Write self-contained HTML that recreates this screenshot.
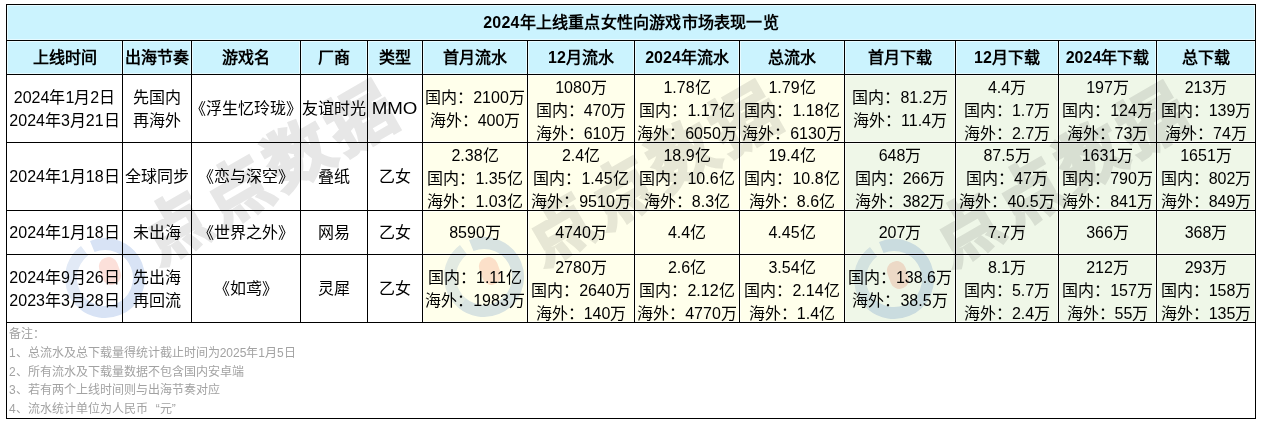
<!DOCTYPE html>
<html lang="zh-CN"><head><meta charset="utf-8"><style>
*{margin:0;padding:0;box-sizing:border-box}
html,body{width:1261px;height:423px;background:#fff;overflow:hidden}
body{font-family:"Liberation Sans",sans-serif;color:#000;position:relative}
.c{position:absolute;box-shadow:inset 0 0 0 1px rgba(255,255,255,.55);display:flex;align-items:center;justify-content:center;text-align:center;font-size:16px;line-height:23px;white-space:nowrap;overflow:visible}
.h{font-weight:bold}
.l{position:absolute;background:#000}
.n{position:absolute;left:9px;top:325px;font-size:12px;line-height:18.75px;color:#a2a2a2;white-space:nowrap}
.wm{position:absolute;white-space:nowrap;pointer-events:none}
</style></head><body>

<div class="c h" style="left:7px;top:5px;width:1248px;height:35px;background:#cbf3fe;letter-spacing:0.2px">2024年上线重点女性向游戏市场表现一览</div>
<div class="c h" style="left:7px;top:41px;width:115px;height:33px;background:#cbf3fe">上线时间</div>
<div class="c h" style="left:123px;top:41px;width:68px;height:33px;background:#cbf3fe">出海节奏</div>
<div class="c h" style="left:192px;top:41px;width:108px;height:33px;background:#cbf3fe">游戏名</div>
<div class="c h" style="left:301px;top:41px;width:66px;height:33px;background:#cbf3fe">厂商</div>
<div class="c h" style="left:368px;top:41px;width:54px;height:33px;background:#cbf3fe">类型</div>
<div class="c h" style="left:423px;top:41px;width:104px;height:33px;background:#cbf3fe">首月流水</div>
<div class="c h" style="left:528px;top:41px;width:106px;height:33px;background:#cbf3fe">12月流水</div>
<div class="c h" style="left:635px;top:41px;width:104px;height:33px;background:#cbf3fe">2024年流水</div>
<div class="c h" style="left:740px;top:41px;width:104px;height:33px;background:#cbf3fe">总流水</div>
<div class="c h" style="left:845px;top:41px;width:110px;height:33px;background:#cbf3fe">首月下载</div>
<div class="c h" style="left:956px;top:41px;width:102px;height:33px;background:#cbf3fe">12月下载</div>
<div class="c h" style="left:1059px;top:41px;width:97px;height:33px;background:#cbf3fe">2024年下载</div>
<div class="c h" style="left:1157px;top:41px;width:98px;height:33px;background:#cbf3fe">总下载</div>
<div class="c" style="left:7px;top:75px;width:115px;height:67px;background:#ffffff;"><div>2024年1月2日<br>2024年3月21日</div></div>
<div class="c" style="left:123px;top:75px;width:68px;height:67px;background:#ffffff;"><div>先国内<br>再海外</div></div>
<div class="c" style="left:192px;top:75px;width:108px;height:67px;background:#ffffff;"><div>《浮生忆玲珑》</div></div>
<div class="c" style="left:301px;top:75px;width:66px;height:67px;background:#ffffff;"><div>友谊时光</div></div>
<div class="c" style="left:368px;top:75px;width:54px;height:67px;background:#ffffff;"><div><span style="display:inline-block;transform:scaleX(1.17)">MMO</span></div></div>
<div class="c" style="left:423px;top:75px;width:104px;height:67px;background:#ffffeb;"><div>国内：2100万<br>海外：400万</div></div>
<div class="c" style="left:528px;top:75px;width:106px;height:67px;background:#ffffeb;padding-top:3px;"><div>1080万<br>国内：470万<br>海外：610万</div></div>
<div class="c" style="left:635px;top:75px;width:104px;height:67px;background:#ffffeb;padding-top:3px;"><div>1.78亿<br>国内：1.17亿<br>海外：6050万</div></div>
<div class="c" style="left:740px;top:75px;width:104px;height:67px;background:#ffffeb;padding-top:3px;"><div>1.79亿<br>国内：1.18亿<br>海外：6130万</div></div>
<div class="c" style="left:845px;top:75px;width:110px;height:67px;background:#eff7e8;"><div>国内：81.2万<br>海外：11.4万</div></div>
<div class="c" style="left:956px;top:75px;width:102px;height:67px;background:#eff7e8;padding-top:3px;"><div>4.4万<br>国内：1.7万<br>海外：2.7万</div></div>
<div class="c" style="left:1059px;top:75px;width:97px;height:67px;background:#eff7e8;padding-top:3px;"><div>197万<br>国内：124万<br>海外：73万</div></div>
<div class="c" style="left:1157px;top:75px;width:98px;height:67px;background:#eff7e8;padding-top:3px;"><div>213万<br>国内：139万<br>海外：74万</div></div>
<div class="c" style="left:7px;top:143px;width:115px;height:67px;background:#ffffff;"><div>2024年1月18日</div></div>
<div class="c" style="left:123px;top:143px;width:68px;height:67px;background:#ffffff;"><div>全球同步</div></div>
<div class="c" style="left:192px;top:143px;width:108px;height:67px;background:#ffffff;"><div>《恋与深空》</div></div>
<div class="c" style="left:301px;top:143px;width:66px;height:67px;background:#ffffff;"><div>叠纸</div></div>
<div class="c" style="left:368px;top:143px;width:54px;height:67px;background:#ffffff;"><div>乙女</div></div>
<div class="c" style="left:423px;top:143px;width:104px;height:67px;background:#ffffeb;padding-top:3px;"><div>2.38亿<br>国内：1.35亿<br>海外：1.03亿</div></div>
<div class="c" style="left:528px;top:143px;width:106px;height:67px;background:#ffffeb;padding-top:3px;"><div>2.4亿<br>国内：1.45亿<br>海外：9510万</div></div>
<div class="c" style="left:635px;top:143px;width:104px;height:67px;background:#ffffeb;padding-top:3px;"><div>18.9亿<br>国内：10.6亿<br>海外：8.3亿</div></div>
<div class="c" style="left:740px;top:143px;width:104px;height:67px;background:#ffffeb;padding-top:3px;"><div>19.4亿<br>国内：10.8亿<br>海外：8.6亿</div></div>
<div class="c" style="left:845px;top:143px;width:110px;height:67px;background:#eff7e8;padding-top:3px;"><div>648万<br>国内：266万<br>海外：382万</div></div>
<div class="c" style="left:956px;top:143px;width:102px;height:67px;background:#eff7e8;padding-top:3px;"><div>87.5万<br>国内：47万<br>海外：40.5万</div></div>
<div class="c" style="left:1059px;top:143px;width:97px;height:67px;background:#eff7e8;padding-top:3px;"><div>1631万<br>国内：790万<br>海外：841万</div></div>
<div class="c" style="left:1157px;top:143px;width:98px;height:67px;background:#eff7e8;padding-top:3px;"><div>1651万<br>国内：802万<br>海外：849万</div></div>
<div class="c" style="left:7px;top:211px;width:115px;height:43px;background:#ffffff;"><div>2024年1月18日</div></div>
<div class="c" style="left:123px;top:211px;width:68px;height:43px;background:#ffffff;"><div>未出海</div></div>
<div class="c" style="left:192px;top:211px;width:108px;height:43px;background:#ffffff;"><div>《世界之外》</div></div>
<div class="c" style="left:301px;top:211px;width:66px;height:43px;background:#ffffff;"><div>网易</div></div>
<div class="c" style="left:368px;top:211px;width:54px;height:43px;background:#ffffff;"><div>乙女</div></div>
<div class="c" style="left:423px;top:211px;width:104px;height:43px;background:#ffffeb;"><div>8590万</div></div>
<div class="c" style="left:528px;top:211px;width:106px;height:43px;background:#ffffeb;"><div>4740万</div></div>
<div class="c" style="left:635px;top:211px;width:104px;height:43px;background:#ffffeb;"><div>4.4亿</div></div>
<div class="c" style="left:740px;top:211px;width:104px;height:43px;background:#ffffeb;"><div>4.45亿</div></div>
<div class="c" style="left:845px;top:211px;width:110px;height:43px;background:#eff7e8;"><div>207万</div></div>
<div class="c" style="left:956px;top:211px;width:102px;height:43px;background:#eff7e8;"><div>7.7万</div></div>
<div class="c" style="left:1059px;top:211px;width:97px;height:43px;background:#eff7e8;"><div>366万</div></div>
<div class="c" style="left:1157px;top:211px;width:98px;height:43px;background:#eff7e8;"><div>368万</div></div>
<div class="c" style="left:7px;top:255px;width:115px;height:67px;background:#ffffff;"><div>2024年9月26日<br>2023年3月28日</div></div>
<div class="c" style="left:123px;top:255px;width:68px;height:67px;background:#ffffff;"><div>先出海<br>再回流</div></div>
<div class="c" style="left:192px;top:255px;width:108px;height:67px;background:#ffffff;"><div>《如鸢》</div></div>
<div class="c" style="left:301px;top:255px;width:66px;height:67px;background:#ffffff;"><div>灵犀</div></div>
<div class="c" style="left:368px;top:255px;width:54px;height:67px;background:#ffffff;"><div>乙女</div></div>
<div class="c" style="left:423px;top:255px;width:104px;height:67px;background:#ffffeb;"><div>国内：1.11亿<br>海外：1983万</div></div>
<div class="c" style="left:528px;top:255px;width:106px;height:67px;background:#ffffeb;padding-top:3px;"><div>2780万<br>国内：2640万<br>海外：140万</div></div>
<div class="c" style="left:635px;top:255px;width:104px;height:67px;background:#ffffeb;padding-top:3px;"><div>2.6亿<br>国内：2.12亿<br>海外：4770万</div></div>
<div class="c" style="left:740px;top:255px;width:104px;height:67px;background:#ffffeb;padding-top:3px;"><div>3.54亿<br>国内：2.14亿<br>海外：1.4亿</div></div>
<div class="c" style="left:845px;top:255px;width:110px;height:67px;background:#eff7e8;"><div>国内：138.6万<br>海外：38.5万</div></div>
<div class="c" style="left:956px;top:255px;width:102px;height:67px;background:#eff7e8;padding-top:3px;"><div>8.1万<br>国内：5.7万<br>海外：2.4万</div></div>
<div class="c" style="left:1059px;top:255px;width:97px;height:67px;background:#eff7e8;padding-top:3px;"><div>212万<br>国内：157万<br>海外：55万</div></div>
<div class="c" style="left:1157px;top:255px;width:98px;height:67px;background:#eff7e8;padding-top:3px;"><div>293万<br>国内：158万<br>海外：135万</div></div>
<div class="l" style="left:6px;top:4px;width:1250px;height:1px"></div>
<div class="l" style="left:6px;top:40px;width:1250px;height:1px"></div>
<div class="l" style="left:6px;top:74px;width:1250px;height:1px"></div>
<div class="l" style="left:6px;top:142px;width:1250px;height:1px"></div>
<div class="l" style="left:6px;top:210px;width:1250px;height:1px"></div>
<div class="l" style="left:6px;top:254px;width:1250px;height:1px"></div>
<div class="l" style="left:6px;top:322px;width:1250px;height:1px"></div>
<div class="l" style="left:6px;top:418px;width:1250px;height:1px"></div>
<div class="l" style="left:6px;top:4px;width:1px;height:415px"></div>
<div class="l" style="left:1255px;top:4px;width:1px;height:415px"></div>
<div class="l" style="left:122px;top:40px;width:1px;height:283px"></div>
<div class="l" style="left:191px;top:40px;width:1px;height:283px"></div>
<div class="l" style="left:300px;top:40px;width:1px;height:283px"></div>
<div class="l" style="left:367px;top:40px;width:1px;height:283px"></div>
<div class="l" style="left:422px;top:40px;width:1px;height:283px"></div>
<div class="l" style="left:527px;top:40px;width:1px;height:283px"></div>
<div class="l" style="left:634px;top:40px;width:1px;height:283px"></div>
<div class="l" style="left:739px;top:40px;width:1px;height:283px"></div>
<div class="l" style="left:844px;top:40px;width:1px;height:283px"></div>
<div class="l" style="left:955px;top:40px;width:1px;height:283px"></div>
<div class="l" style="left:1058px;top:40px;width:1px;height:283px"></div>
<div class="l" style="left:1156px;top:40px;width:1px;height:283px"></div>
<svg class="wm" style="left:55px;top:228px;mix-blend-mode:multiply" width="100" height="100" viewBox="-50 -50 100 100"><circle r="34" fill="none" stroke="#d8e3f5" stroke-width="12" stroke-dasharray="143.6 1000" transform="rotate(-112)"/><circle r="34" fill="none" stroke="#e2eaf6" stroke-width="12" stroke-dasharray="61.1 1000" transform="rotate(130)"/><rect x="-4.5" y="-21" width="19" height="28" rx="9" fill="#fce0da" transform="rotate(-20 5 -7)"/></svg>
<div class="wm" style="left:141.0px;top:194.0px;width:70px;height:70px;line-height:70px;text-align:center;font-size:65px;font-weight:900;color:#e7e7e7;-webkit-text-stroke:3px #e7e7e7;mix-blend-mode:multiply;transform:rotate(-30deg)">点</div>
<div class="wm" style="left:202.5px;top:157.5px;width:70px;height:70px;line-height:70px;text-align:center;font-size:65px;font-weight:900;color:#e7e7e7;-webkit-text-stroke:3px #e7e7e7;mix-blend-mode:multiply;transform:rotate(-30deg)">点</div>
<div class="wm" style="left:264.0px;top:121.0px;width:70px;height:70px;line-height:70px;text-align:center;font-size:65px;font-weight:900;color:#e7e7e7;-webkit-text-stroke:3px #e7e7e7;mix-blend-mode:multiply;transform:rotate(-30deg)">数</div>
<div class="wm" style="left:325.5px;top:84.5px;width:70px;height:70px;line-height:70px;text-align:center;font-size:65px;font-weight:900;color:#e7e7e7;-webkit-text-stroke:3px #e7e7e7;mix-blend-mode:multiply;transform:rotate(-30deg)">据</div>
<svg class="wm" style="left:434px;top:227px;mix-blend-mode:multiply" width="100" height="100" viewBox="-50 -50 100 100"><circle r="34" fill="none" stroke="#d8e3f5" stroke-width="12" stroke-dasharray="143.6 1000" transform="rotate(-112)"/><circle r="34" fill="none" stroke="#e2eaf6" stroke-width="12" stroke-dasharray="61.1 1000" transform="rotate(130)"/><rect x="-3.5" y="-20" width="19" height="28" rx="9" fill="#fce0da" transform="rotate(-20 6 -6)"/></svg>
<div class="wm" style="left:525.0px;top:195.0px;width:70px;height:70px;line-height:70px;text-align:center;font-size:65px;font-weight:900;color:#e7e7e7;-webkit-text-stroke:3px #e7e7e7;mix-blend-mode:multiply;transform:rotate(-30deg)">点</div>
<div class="wm" style="left:586.5px;top:158.5px;width:70px;height:70px;line-height:70px;text-align:center;font-size:65px;font-weight:900;color:#e7e7e7;-webkit-text-stroke:3px #e7e7e7;mix-blend-mode:multiply;transform:rotate(-30deg)">点</div>
<div class="wm" style="left:648.0px;top:122.0px;width:70px;height:70px;line-height:70px;text-align:center;font-size:65px;font-weight:900;color:#e7e7e7;-webkit-text-stroke:3px #e7e7e7;mix-blend-mode:multiply;transform:rotate(-30deg)">数</div>
<div class="wm" style="left:709.5px;top:85.5px;width:70px;height:70px;line-height:70px;text-align:center;font-size:65px;font-weight:900;color:#e7e7e7;-webkit-text-stroke:3px #e7e7e7;mix-blend-mode:multiply;transform:rotate(-30deg)">据</div>
<svg class="wm" style="left:844px;top:229px;mix-blend-mode:multiply" width="100" height="100" viewBox="-50 -50 100 100"><circle r="34" fill="none" stroke="#d8e3f5" stroke-width="12" stroke-dasharray="143.6 1000" transform="rotate(-112)"/><circle r="34" fill="none" stroke="#e2eaf6" stroke-width="12" stroke-dasharray="61.1 1000" transform="rotate(130)"/><rect x="-5.5" y="-18" width="19" height="28" rx="9" fill="#fce0da" transform="rotate(-20 4 -4)"/></svg>
<div class="wm" style="left:933.0px;top:196.0px;width:70px;height:70px;line-height:70px;text-align:center;font-size:65px;font-weight:900;color:#e7e7e7;-webkit-text-stroke:3px #e7e7e7;mix-blend-mode:multiply;transform:rotate(-30deg)">点</div>
<div class="wm" style="left:994.5px;top:159.5px;width:70px;height:70px;line-height:70px;text-align:center;font-size:65px;font-weight:900;color:#e7e7e7;-webkit-text-stroke:3px #e7e7e7;mix-blend-mode:multiply;transform:rotate(-30deg)">点</div>
<div class="wm" style="left:1056.0px;top:123.0px;width:70px;height:70px;line-height:70px;text-align:center;font-size:65px;font-weight:900;color:#e7e7e7;-webkit-text-stroke:3px #e7e7e7;mix-blend-mode:multiply;transform:rotate(-30deg)">数</div>
<div class="wm" style="left:1117.5px;top:86.5px;width:70px;height:70px;line-height:70px;text-align:center;font-size:65px;font-weight:900;color:#e7e7e7;-webkit-text-stroke:3px #e7e7e7;mix-blend-mode:multiply;transform:rotate(-30deg)">据</div>
<div class="n">备注：<br>1、总流水及总下载量得统计截止时间为2025年1月5日<br>2、所有流水及下载量数据不包含国内安卓端<br>3、若有两个上线时间则与出海节奏对应<br>4、流水统计单位为人民币<span style="display:inline-block;width:12px;text-align:right">“</span>元<span style="display:inline-block;width:12px;text-align:left">”</span></div>
</body></html>
